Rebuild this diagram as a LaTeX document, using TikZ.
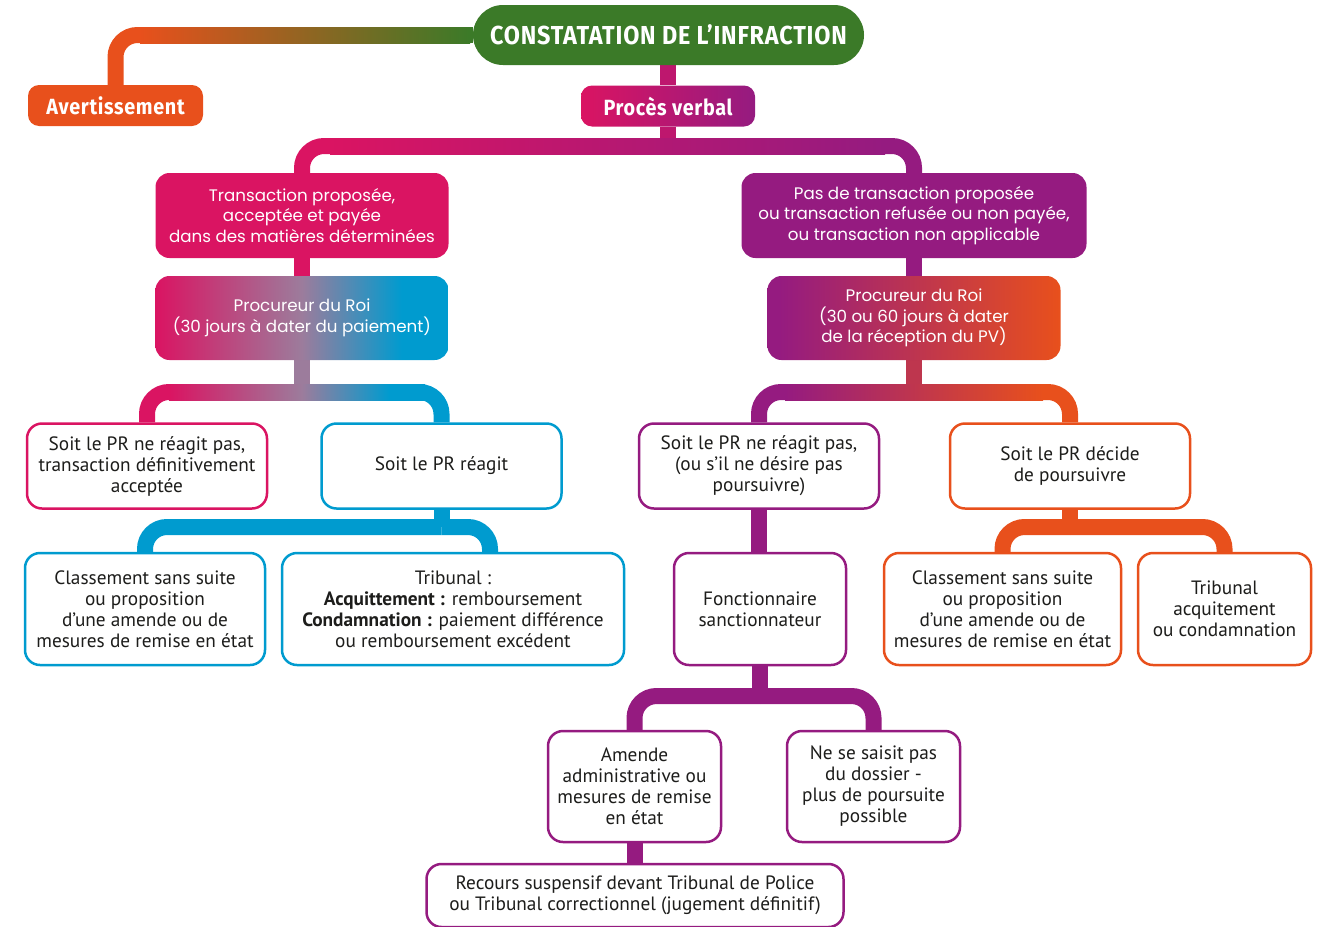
\documentclass[tikz,border=0pt]{standalone}
\usepackage{fontspec}
\usetikzlibrary{backgrounds}
\newfontfamily\wfont{PT Sans}
\newfontfamily\gfont{Poppins}
\newfontfamily\tfont{Fira Sans}[FakeStretch=0.9, LetterSpace=3]
\definecolor{cgreen}{HTML}{3B7A28}
\definecolor{corange}{HTML}{E8501C}
\definecolor{cpink}{HTML}{DA1462}
\definecolor{cpurple}{HTML}{951B80}
\definecolor{cblue}{HTML}{009BCF}
\definecolor{cmauve}{HTML}{9C7C9C}
\definecolor{ctext}{HTML}{1D1D1B}
\pgfdeclarehorizontalshading{pinkblue}{100bp}{color(0bp)=(cpink); color(25bp)=(cpink); color(50bp)=(cmauve); color(67bp)=(cblue); color(100bp)=(cblue)}
\pgfdeclarehorizontalshading{barpb}{100bp}{color(0bp)=(cpink); color(25bp)=(cpink); color(51bp)=(cmauve); color(68bp)=(cblue); color(100bp)=(cblue)}
\pgfdeclarehorizontalshading{purpor}{100bp}{color(0bp)=(cpurple); color(27bp)=(cpurple); color(75bp)=(corange); color(100bp)=(corange)}
\pgfdeclarehorizontalshading{pinkpur}{100bp}{color(0bp)=(cpink); color(25bp)=(cpink); color(75bp)=(cpurple); color(100bp)=(cpurple)}
\tikzset{
  conn/.style={line width=16pt, rounded corners=22pt},
  tbox/.style={rounded corners=11pt, text=white, inner sep=0pt, font=\tfont\bfseries\fontsize{22}{24}\selectfont},
  gbox/.style={rounded corners=14pt, text=white, align=center, inner sep=0pt, font=\gfont\fontsize{16.7}{20.5}\selectfont},
  wbox/.style={draw, line width=2.5pt, fill=white, rounded corners=15pt, align=center, text=ctext, inner sep=0pt, font=\wfont\fontsize{19.3}{21}\selectfont}
}
\begin{document}
\begin{tikzpicture}[x=1pt,y=-1pt]
\useasboundingbox (0,0) rectangle (1329,926);
% top level
\node[tbox, fill=cgreen, minimum width=391pt, minimum height=60pt, rounded corners=30pt, font=\tfont\bfseries\fontsize{26}{30}\selectfont] (cons) at (668.5,35) {CONSTATATION DE L’INFRACTION};
\node[tbox, fill=corange, minimum width=175pt, minimum height=41pt] (av) at (115.5,105.5) {Avertissement};
\node[tbox, shade, shading=pinkpur, minimum width=174pt, minimum height=41pt] (pv) at (668,106) {Procès verbal};
% gradient boxes
\node[gbox, fill=cpink, minimum width=293pt, minimum height=85pt] (tl) at (302,215.5) {Transaction proposée,\\acceptée et payée\\dans des matières déterminées};
\node[gbox, fill=cpurple, minimum width=345pt, minimum height=85pt] (tr) at (914,215.5) {Pas de transaction proposée\\ou transaction refusée ou non payée,\\ou transaction non applicable};
\node[gbox, shade, shading=pinkblue, minimum width=293pt, minimum height=84pt] (prl) at (302,318) {Procureur du Roi\\(30 jours à dater du paiement)};
\node[gbox, shade, shading=purpor, minimum width=293pt, minimum height=84pt] (prr) at (914,318) {Procureur du Roi\\(30 ou 60 jours à dater\\de la réception du PV)};
% white boxes row 1
\node[wbox, draw=cpink, minimum width=240pt, minimum height=85pt] (a1) at (147,466) {Soit le PR ne réagit pas,\\transaction définitivement\\acceptée};
\node[wbox, draw=cblue, minimum width=240pt, minimum height=85pt] (a2) at (441.5,466) {Soit le PR réagit};
\node[wbox, draw=cpurple, minimum width=240pt, minimum height=85pt] (b1) at (759,466) {Soit le PR ne réagit pas,\\(ou s’il ne désire pas\\poursuivre)};
\node[wbox, draw=corange, minimum width=240pt, minimum height=85pt] (b2) at (1070,466) {Soit le PR décide\\de poursuivre};
% row 2
\node[wbox, draw=cblue, minimum width=240pt, minimum height=112pt] (c1) at (145,609) {Classement sans suite\\ou proposition\\d’une amende ou de\\mesures de remise en état};
\node[wbox, draw=cblue, minimum width=342pt, minimum height=112pt] (c2) at (453,609) {Tribunal :\\\textbf{Acquittement :} remboursement\\\textbf{Condamnation :} paiement différence\\ou remboursement excédent};
\node[wbox, draw=cpurple, minimum width=172pt, minimum height=112pt] (f) at (760,609) {Fonctionnaire\\sanctionnateur};
\node[wbox, draw=corange, minimum width=237pt, minimum height=112pt] (d1) at (1002.5,609) {Classement sans suite\\ou proposition\\d’une amende ou de\\mesures de remise en état};
\node[wbox, draw=corange, minimum width=173pt, minimum height=112pt] (d2) at (1224.5,609) {Tribunal\\acquitement\\ou condamnation};
% row 3
\node[wbox, draw=cpurple, minimum width=173pt, minimum height=111pt] (g1) at (634.5,786.5) {Amende\\administrative ou\\mesures de remise\\en état};
\node[wbox, draw=cpurple, minimum width=173pt, minimum height=111pt] (g2) at (873.5,786.5) {Ne se saisit pas\\du dossier -\\plus de poursuite\\possible};
\node[wbox, draw=cpurple, minimum width=417pt, minimum height=63pt] (h) at (635,895.5) {Recours suspensif devant Tribunal de Police\\ou Tribunal correctionnel (jugement définitif)};
% connectors
\begin{scope}[on background layer]
\coordinate (jtop) at (300,35);
\draw[conn, corange] (av.north) |- (jtop);
\draw[conn, cgreen] (jtop) -- (cons.west);
\shade[left color=corange, right color=cgreen] (140,27) rectangle (470,43);
\draw[conn, cpink!60!cpurple] (pv.north |- cons.south) -- (pv.north);
\coordinate (j1) at (668,146);
\draw[conn, cpink] (tl.north) |- (j1);
\draw[conn, cpurple] (tr.north) |- (j1);
\draw[conn, cpink!60!cpurple] (pv.south) -- (j1);
\shade[left color=cpink, right color=cpurple] (330,138) rectangle (885,154);
\draw[conn, cpink] (tl.south) -- (prl.north);
\draw[conn, cpurple] (tr.south) -- (prr.north);
\coordinate (j2) at (302,392);
\draw[conn, cpink] (a1.north) |- (j2);
\draw[conn, cblue] (a2.north) |- (j2);
\draw[conn, cmauve] (prl.south) -- (j2);
\shade[shading=barpb] (169,384) rectangle (425,400);
\coordinate (j3) at (914,392);
\draw[conn, cpurple] (b1.north) |- (j3);
\draw[conn, corange] (b2.north) |- (j3);
\draw[conn, cpurple!50!corange] (prr.south) -- (j3);
\shade[left color=cpurple, right color=corange] (785,384) rectangle (1043,400);
\coordinate (j4) at (441.5,527);
\draw[conn, cblue] (a2.south) -- (j4);
\draw[conn, cblue] (c1.north) |- (j4);
\draw[conn, cblue] ([xshift=37pt]c2.north) |- (j4);
\draw[conn, cpurple] (b1.south) -- (b1.south |- f.north);
\coordinate (j5) at (1070,527);
\draw[conn, corange] (b2.south) -- (j5);
\draw[conn, corange] (d1.north) |- (j5);
\draw[conn, corange] (d2.north) |- (j5);
\coordinate (j6) at (760,696);
\draw[conn, cpurple] (f.south) -- (j6);
\draw[conn, cpurple] (g1.north) |- (j6);
\draw[conn, cpurple] (g2.north) |- (j6);
\draw[conn, cpurple] (g1.south) -- (g1.south |- h.north);
\end{scope}
\end{tikzpicture}
\end{document}
